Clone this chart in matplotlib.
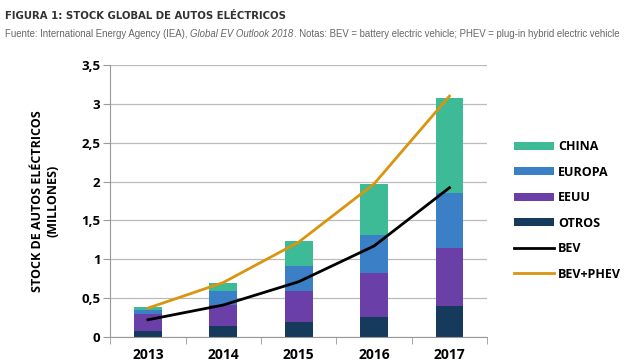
import numpy as np
import matplotlib.pyplot as plt

# Data (millions of electric cars)
years = ["2013", "2014", "2015", "2016", "2017"]
otros = [0.07, 0.14, 0.19, 0.26, 0.40]
eeuu = [0.22, 0.27, 0.395, 0.56, 0.75]
europa = [0.05, 0.175, 0.325, 0.49, 0.70]
china = [0.045, 0.105, 0.32, 0.66, 1.23]
bev = [0.22, 0.41, 0.71, 1.17, 1.92]
bev_phev = [0.37, 0.70, 1.22, 1.97, 3.10]
yticks = [0, 0.5, 1, 1.5, 2, 2.5, 3, 3.5]
ytick_labels = ["0", "0,5", "1", "1,5", "2", "2,5", "3", "3,5"]

colors = {"CHINA": "#3dbb97", "EUROPA": "#3b7fc6", "EEUU": "#6a40a8",
          "OTROS": "#163a5c"}

plt.rcParams['font.family'] = ['Open Sans', 'DejaVu Sans']

fig = plt.figure(figsize=(6.41, 3.63), dpi=100)
ax = fig.add_axes([0.172, 0.072, 0.588, 0.749])

x = np.arange(len(years))
w = 0.37
bottom = np.zeros(len(years))
for name, vals in [("OTROS", otros), ("EEUU", eeuu), ("EUROPA", europa), ("CHINA", china)]:
    ax.bar(x, vals, w, bottom=bottom, color=colors[name], label=name, zorder=2)
    bottom += np.array(vals)

ax.plot(x, bev, color="black", lw=2, label="BEV", zorder=3)
ax.plot(x, bev_phev, color="#d9950f", lw=2, label="BEV+PHEV", zorder=3)

ax.set_xlim(-0.5, len(years) - 0.5)
ax.set_ylim(0, 3.5)
ax.set_yticks(yticks)
ax.set_yticklabels(ytick_labels, fontweight="bold", fontsize=9.5)
ax.set_xticks(x)
ax.set_xticklabels(years, fontweight="bold", fontsize=10)
ax.set_xticks(np.arange(-0.5, len(years)), minor=True)
ax.tick_params(axis="x", which="major", length=0, pad=8)
ax.tick_params(axis="x", which="minor", length=5, color="#999999")
ax.tick_params(axis="y", length=5, color="#999999", pad=2)
ax.grid(axis="y", color="#bbbbbb", lw=0.9, zorder=0)
for s in ["top", "right"]:
    ax.spines[s].set_visible(False)
ax.spines["left"].set_color("#999999")
ax.spines["bottom"].set_color("#999999")

ax.set_ylabel("STOCK DE AUTOS ELÉCTRICOS\n(MILLONES)", fontweight="bold",
              fontsize=9, labelpad=16, linespacing=1.2)

handles, labels = ax.get_legend_handles_labels()
order = ["CHINA", "EUROPA", "EEUU", "OTROS", "BEV", "BEV+PHEV"]
hmap = dict(zip(labels, handles))
leg = fig.legend([hmap[k] for k in order], order, loc="upper left",
                 bbox_to_anchor=(0.785, 0.645), frameon=False, handlelength=3.2,
                 handleheight=0.6, handletextpad=0.3, labelspacing=1.0,
                 prop={"weight": "bold", "size": 9})

fig.text(0.008, 0.955, "FIGURA 1: STOCK GLOBAL DE AUTOS ELÉCTRICOS",
         fontweight="bold", fontsize=7.3, color="#333333", va="center",
         family=["DejaVu Sans"])
sub_font = ["Liberation Sans Narrow", "Liberation Sans"]
t1 = fig.text(0.008, 0.905, "Fuente: International Energy Agency (IEA), ",
              fontsize=6.9, color="#666666", va="center", family=sub_font)
t2 = ax.annotate("Global EV Outlook 2018", xy=(1, 0), xycoords=t1, va="bottom",
                 fontsize=6.9, color="#666666", style="italic", family=sub_font,
                 annotation_clip=False)
ax.annotate(". Notas: BEV = battery electric vehicle; PHEV = plug-in hybrid electric vehicle",
            xy=(1, 0), xycoords=t2, va="bottom", fontsize=6.9, color="#666666",
            family=sub_font, annotation_clip=False)

fig.savefig("out.png", dpi=100)
